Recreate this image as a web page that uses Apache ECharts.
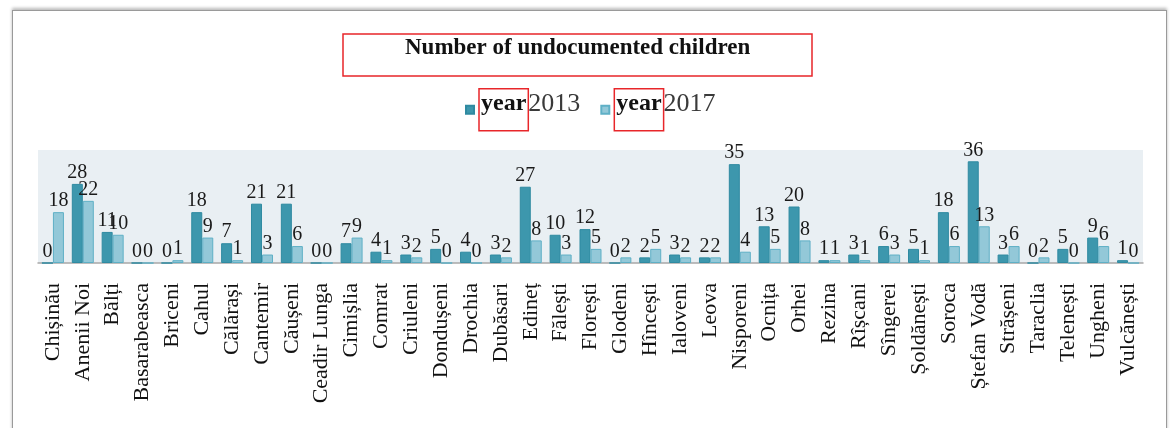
<!DOCTYPE html>
<html><head><meta charset="utf-8">
<script src="https://cdn.jsdelivr.net/npm/echarts@6/dist/echarts.min.js"></script>
<style>
html,body{margin:0;padding:0;background:#fff;}
#frame{position:absolute;left:12px;top:10px;width:1153px;height:440px;border:1px solid #9a9a9a;box-shadow:0 -2px 3px #bbb;}
#c{position:absolute;left:0;top:0;width:1172px;height:428px;}
</style></head>
<body>
<div id="frame"></div>
<div id="c"></div>
<script>
const categories = ["Chișinău","Anenii Noi","Bălți","Basarabeasca","Briceni","Cahul","Călărași","Cantemir","Căușeni","Ceadir Lunga","Cimișlia","Comrat","Criuleni","Dondușeni","Drochia","Dubăsari","Edineț","Fălești","Florești","Glodeni","Hîncești","Ialoveni","Leova","Nisporeni","Ocnița","Orhei","Rezina","Rîșcani","Sîngerei","Șoldănești","Soroca","Ștefan Vodă","Strășeni","Taraclia","Telenești","Ungheni","Vulcănești"];
const values2013 = [0,28,11,0,0,18,7,21,21,0,7,4,3,5,4,3,27,10,12,0,2,3,2,35,13,20,1,3,6,5,18,36,3,0,5,9,1];
const values2017 = [18,22,10,0,1,9,1,3,6,0,9,1,2,0,0,2,8,3,5,2,5,2,2,4,5,8,1,1,3,1,6,13,6,2,0,6,0];
const seriesNames = ["year 2013","year 2017"];

const serif = "'Liberation Serif','DejaVu Serif',serif";
const chart = echarts.init(document.getElementById('c'));
const lbl = {show:true,position:'top',distance:1,fontFamily:serif,fontSize:20,color:'#1a1a1a'};
chart.setOption({
  animation:false,
  title:{text:'Number of undocumented children',left:343,top:34,
    borderColor:'#e8262a',borderWidth:1.5,padding:[3,62,16,62],
    textStyle:{fontFamily:serif,fontSize:23,fontWeight:'bold',color:'#111'}},
  legend:{top:83,left:460,itemGap:20,itemWidth:8,itemHeight:8,icon:'rect',
    data:seriesNames,
    formatter:function(n){const p=n.split(' ');return '{y|'+p[0]+'}{n|'+p[1]+'}';},
    textStyle:{fontFamily:serif,fontSize:25,color:'#3a3a3a',
      rich:{
        y:{fontFamily:serif,fontSize:24,fontWeight:'bold',color:'#111',
          borderColor:'#e8262a',borderWidth:1.5,padding:[3,2,15,2]},
        n:{fontFamily:serif,fontSize:26,color:'#3a3a3a',padding:[3,0,15,0]}}}},
  grid:{left:38,right:29,top:150,bottom:165,show:true,backgroundColor:'#e9eff3',borderWidth:0},
  xAxis:{type:'category',data:categories,
    axisLine:{lineStyle:{color:'#a8a8a8',width:1.5}},axisTick:{show:false},
    axisLabel:{interval:0,rotate:90,margin:20,fontFamily:serif,fontSize:22,color:'#111'}},
  yAxis:{type:'value',min:0,max:40,show:false,splitLine:{show:false}},
  series:[
    {name:seriesNames[0],type:'bar',data:values2013,barWidth:11,barGap:'0%',
     itemStyle:{color:'#3d97ad',borderColor:'#2f8aa1',borderWidth:1},label:lbl},
    {name:seriesNames[1],type:'bar',data:values2017,barWidth:11,barGap:'0%',
     itemStyle:{color:'#93c8d8',borderColor:'#5fb0c6',borderWidth:1},label:lbl}
  ]
});
</script>
</body></html>
